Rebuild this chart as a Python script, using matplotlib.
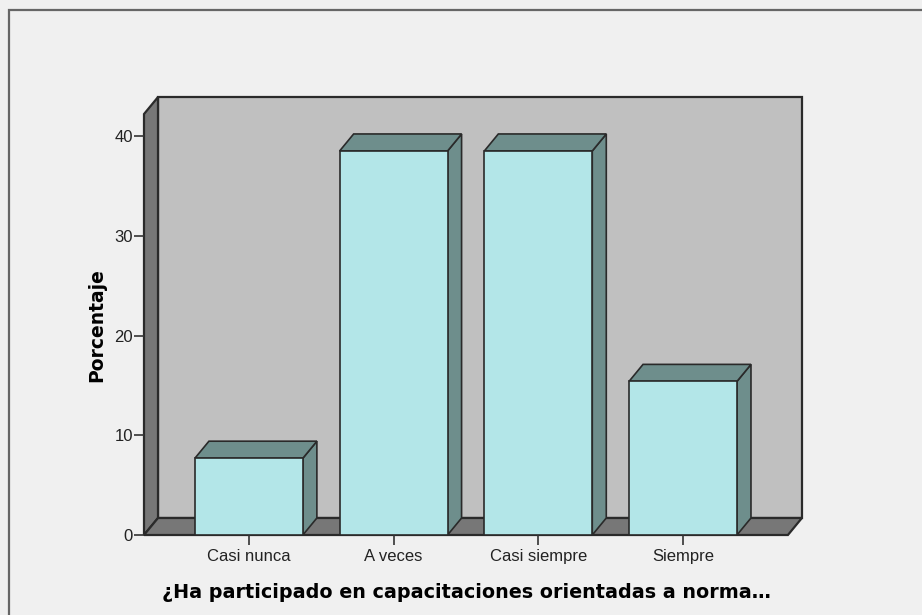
import matplotlib
matplotlib.use("Agg")
import matplotlib.pyplot as plt
from matplotlib.patches import Polygon, Rectangle

# data (percentages)
categories = ["Casi nunca", "A veces", "Casi siempre", "Siempre"]
percent = [7.7, 38.5, 38.5, 15.4]
y_ticks = [0, 10, 20, 30, 40]
x_title = "¿Ha participado en capacitaciones orientadas a norma…"
y_title = "Porcentaje"

# colours
bg = "#f0f0f0"
wall = "#c0c0c0"
floor = "#777777"
bar_front = "#b3e6e8"
bar_side = "#6e8e8c"
edge = "#2a2a2a"

W, H = 922, 615
fig = plt.figure(figsize=(W / 100, H / 100), dpi=100, facecolor=bg)

# axes region in pixels (front-left axis to back-right corner)
left_px, right_px, bottom_px, top_px = 144, 802, 535, 97
ax = fig.add_axes([left_px / W, (H - bottom_px) / H,
                   (right_px - left_px) / W, (bottom_px - top_px) / H])
ax.set_facecolor("none")

px_per_cat = 144.7
px_per_unit = 9.975
x0 = -0.725
x1 = 3.725
ax.set_xlim(x0, x0 + (right_px - left_px) / px_per_cat)
ax.set_ylim(0, (bottom_px - top_px) / px_per_unit)

# depth offset of the 3d look, in data units
dx = 14 / px_per_cat
dy = 17 / px_per_unit
wall_top = 42.2

# back wall
ax.add_patch(Rectangle((x0 + dx, dy), x1 - x0, wall_top, facecolor=wall,
                       edgecolor=edge, lw=1.6, clip_on=False))
# left side wall
ax.add_patch(Polygon([(x0, 0), (x0, wall_top), (x0 + dx, wall_top + dy), (x0 + dx, dy)],
                     facecolor=floor, edgecolor=edge, lw=1.6, clip_on=False))
# floor
ax.add_patch(Polygon([(x0, 0), (x1, 0), (x1 + dx, dy), (x0 + dx, dy)],
                     facecolor=floor, edgecolor=edge, lw=1.6, clip_on=False))

# bars
bw = 0.373
for i, v in enumerate(percent):
    l, r = i - bw, i + bw
    ax.add_patch(Polygon([(r, 0), (r + dx, dy), (r + dx, v + dy), (r, v)],
                         facecolor=bar_side, edgecolor=edge, lw=1.2, clip_on=False))
    ax.add_patch(Polygon([(l, v), (r, v), (r + dx, v + dy), (l + dx, v + dy)],
                         facecolor=bar_side, edgecolor=edge, lw=1.2, clip_on=False))
    ax.add_patch(Rectangle((l, 0), 2 * bw, v, facecolor=bar_front,
                           edgecolor=edge, lw=1.2, clip_on=False))

for s in ax.spines.values():
    s.set_visible(False)

ax.set_yticks(y_ticks)
ax.set_yticklabels([str(t) for t in y_ticks])
ax.set_xticks(range(len(categories)))
ax.set_xticklabels(categories)
ax.tick_params(axis="y", direction="out", length=7, width=1.2, color="#333333",
               pad=1, labelsize=12, labelcolor="#222222")
ax.tick_params(axis="x", direction="out", length=7, width=1.2, color="#333333",
               pad=3, labelsize=12, labelcolor="#222222")
for lab in ax.get_xticklabels() + ax.get_yticklabels():
    lab.set_family("Liberation Sans")

fig.text(466 / W, 1 - 593 / H, x_title, ha="center", va="center",
         fontsize=13.8, fontweight="bold", family="DejaVu Sans")
fig.text(97 / W, 1 - 325 / H, y_title, ha="center", va="center", rotation=90,
         fontsize=13.5, fontweight="bold", family="DejaVu Sans")

# outer frame of the chart area
fig.add_artist(Rectangle((9 / W, -0.1), 1.2, 1 - 10 / H + 0.1,
                         transform=fig.transFigure, facecolor="none",
                         edgecolor="#666666", lw=1.6))

fig.savefig("out.png", dpi=100, facecolor=bg)
